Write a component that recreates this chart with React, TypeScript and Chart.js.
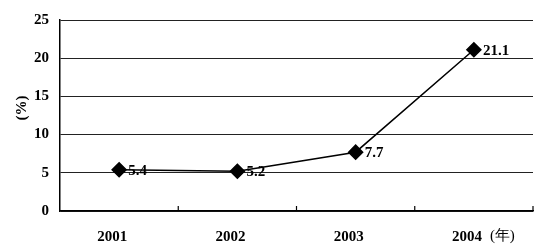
import React, { useEffect, useRef } from "react";
import { Chart, registerables } from "chart.js";

Chart.register(...registerables);

const categories = ["2001", "2002", "2003", "2004"];
const xUnit = "(年)";
const values = [5.4, 5.2, 7.7, 21.1];
const yTicks = [0, 5, 10, 15, 20, 25];
const yTitle = "(%)";

const FONT = "'Liberation Serif', 'Times New Roman', serif";

export default function App() {
  const ref = useRef<HTMLCanvasElement | null>(null);
  useEffect(() => {
    document.body.style.margin = "0";
    const ctx = ref.current!.getContext("2d")!;
    const decor = {
      id: "decor",
      afterDraw(chart: any) {
        const c = chart.ctx;
        const area = chart.chartArea;
        const x = chart.scales.x;
        c.save();
        c.strokeStyle = "#000";
        c.lineWidth = 1.2;
        const n = categories.length;
        for (let i = 1; i <= n; i++) {
          const px = x.getPixelForValue(i - 0.5);
          c.beginPath();
          c.moveTo(px, area.bottom);
          c.lineTo(px, area.bottom - 5);
          c.stroke();
        }
        c.fillStyle = "#000";
        c.font = `bold 15px ${FONT}`;
        c.textAlign = "left";
        c.textBaseline = "middle";
        const meta = chart.getDatasetMeta(0);
        meta.data.forEach((pt: any, i: number) => {
          c.fillText(values[i].toFixed(1), pt.x + 9, pt.y + 1);
        });
        // x unit after last category label
        c.font = `15px ${FONT}`;
        const lastX = x.getPixelForValue(n - 1);
        c.fillText(xUnit, lastX + 16, 236);
        // y title
        c.translate(22, 108);
        c.rotate(-Math.PI / 2);
        c.textAlign = "center";
        c.font = `bold 15px ${FONT}`;
        c.fillText(yTitle, 0, 0);
        c.restore();
      },
    };
    const chart = new Chart(ctx, {
      type: "line",
      data: {
        labels: categories,
        datasets: [
          {
            data: values,
            borderColor: "#000",
            borderWidth: 1.5,
            pointStyle: "rectRot",
            pointRadius: 7,
            pointBackgroundColor: "#000",
            pointBorderColor: "#000",
            tension: 0,
          },
        ],
      },
      options: {
        animation: false,
        responsive: false,
        devicePixelRatio: 1,
        layout: { padding: { top: 18, right: 10, left: 0, bottom: 0 } },
        plugins: { legend: { display: false }, tooltip: { enabled: false } },
        scales: {
          x: {
            offset: true,
            grid: { display: false, drawTicks: false },
            border: { display: true, color: "#000", width: 1.5 },
            ticks: {
              color: "#000",
              font: { family: FONT, size: 15, weight: "bold" },
              padding: 17,
              maxRotation: 0,
              labelOffset: -7,
            },
            afterFit(s: any) {
              s.height = 36;
            },
          },
          y: {
            min: 0,
            max: 25,
            afterBuildTicks(s: any) {
              s.ticks = yTicks.map((v) => ({ value: v }));
            },
            grid: { color: "#222", lineWidth: 1, drawTicks: false },
            border: { display: true, color: "#000", width: 1.5 },
            ticks: {
              color: "#000",
              font: { family: FONT, size: 15, weight: "bold" },
              padding: 11,
            },
            afterFit(s: any) {
              s.width = 60;
            },
          },
        },
      },
      plugins: [decor],
    });
    return () => chart.destroy();
  }, []);
  return (
    <div style={{ position: "fixed", left: 0, top: 0, width: 543, height: 247, background: "#fff" }}>
      <canvas ref={ref} width={543} height={247} />
    </div>
  );
}
